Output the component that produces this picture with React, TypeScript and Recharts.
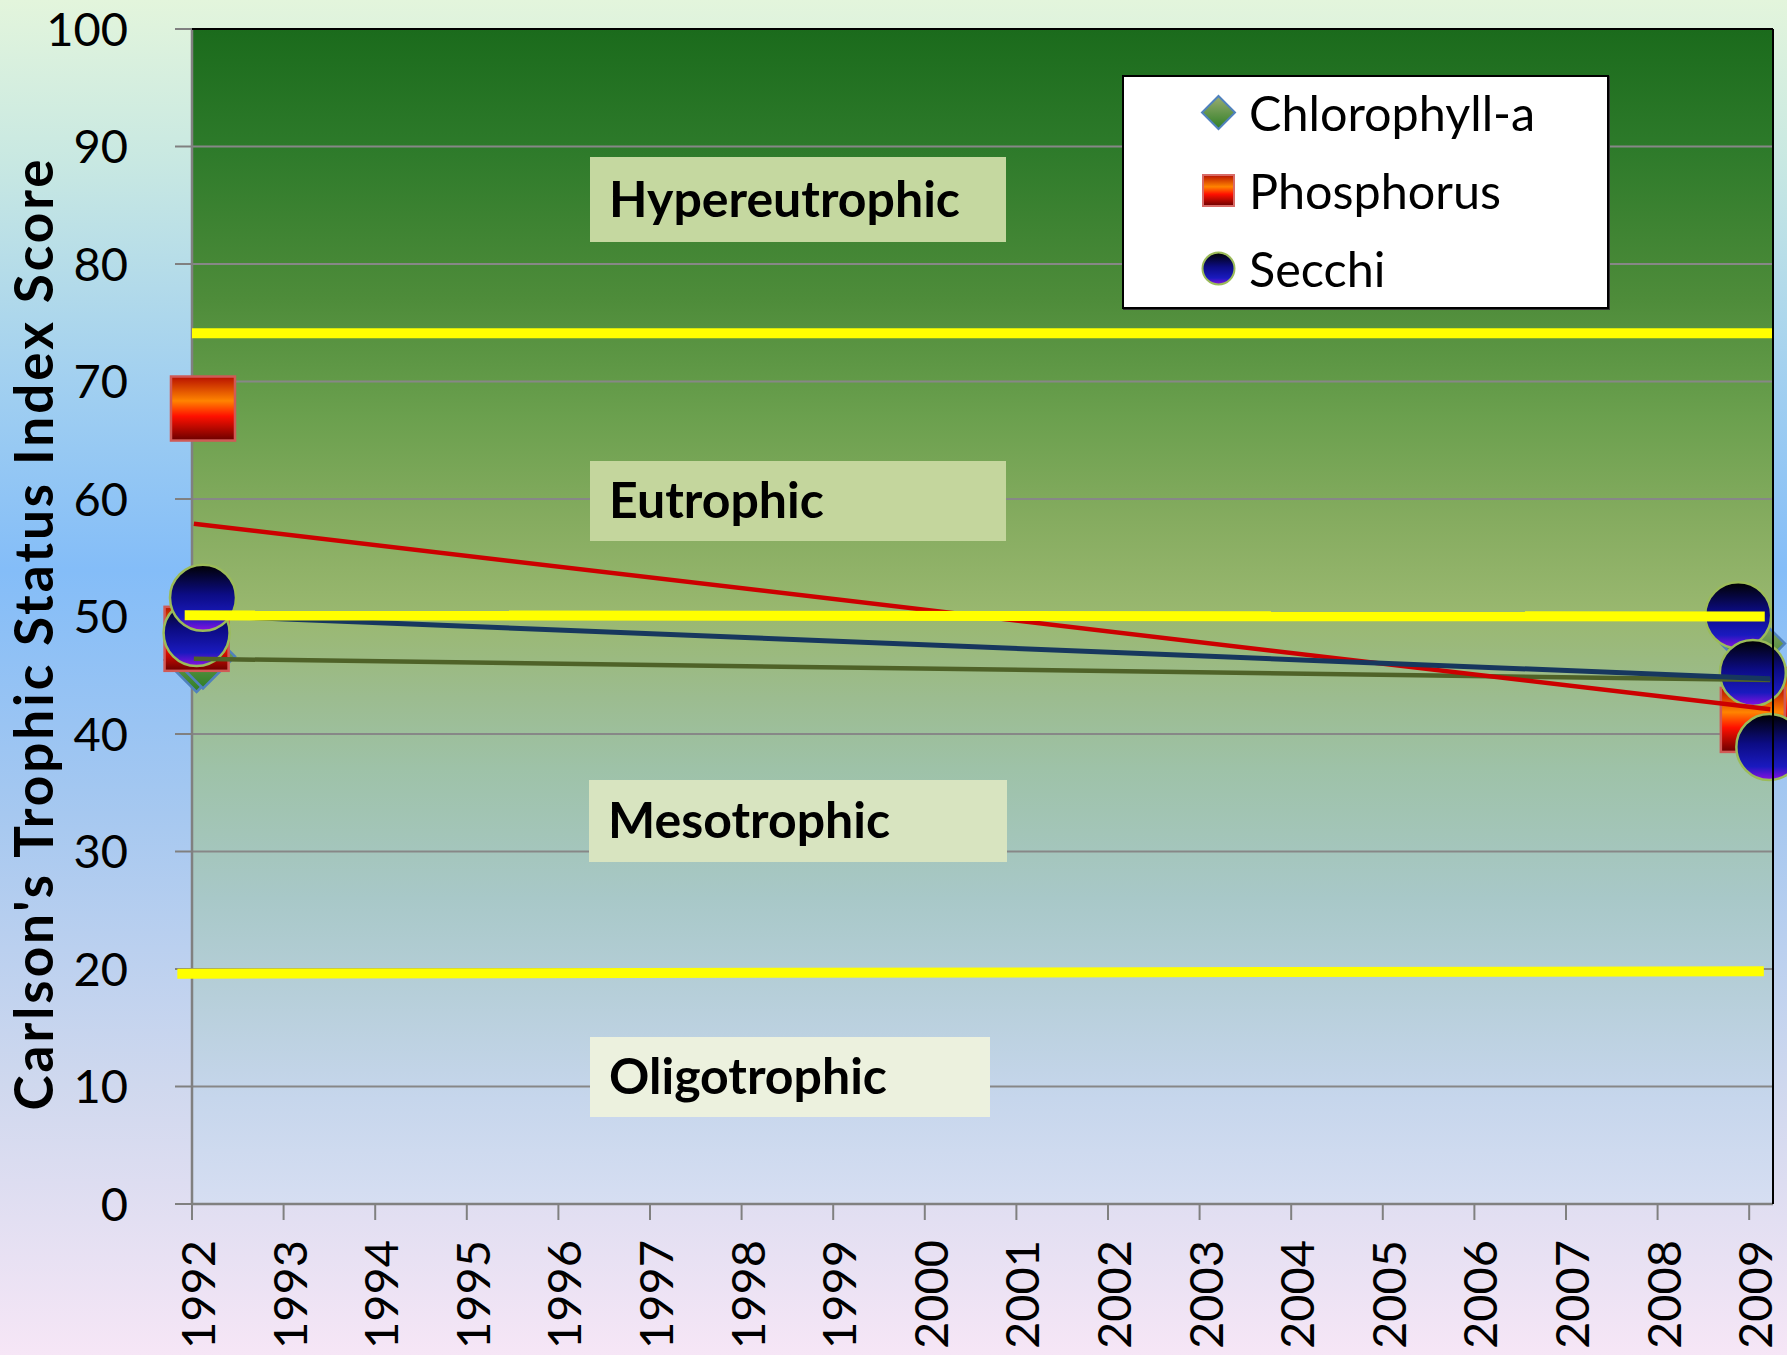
import React from 'react';
import {
  ComposedChart,
  Scatter,
  XAxis,
  YAxis,
  CartesianGrid,
  ReferenceLine,
  Legend,
} from 'recharts';

// ---------- data ----------
const xTicks = [1992, 1993, 1994, 1995, 1996, 1997, 1998, 1999, 2000, 2001, 2002, 2003, 2004, 2005, 2006, 2007, 2008, 2009];
const yTicks = [0, 10, 20, 30, 40, 50, 60, 70, 80, 90, 100];

const chlorophyll = [
  { x: 1992.05, y: 46.3 },
  { x: 1992.12, y: 46.6 },
  { x: 2009.04, y: 47.7 },
];
const phosphorus = [
  { x: 1992.12, y: 67.7 },
  { x: 1992.05, y: 48.1 },
  { x: 2009.22, y: 42.9 },
  { x: 2009.04, y: 41.2 },
];
const secchi = [
  { x: 1992.05, y: 48.6 },
  { x: 1992.12, y: 51.6 },
  { x: 2008.88, y: 50.1 },
  { x: 2009.04, y: 45.2 },
  { x: 2009.22, y: 38.9 },
];

const chlorophyllTrend = [
  { x: 1992.02, y: 46.4 },
  { x: 2009.23, y: 44.6 },
];
const phosphorusTrend = [
  { x: 1992.02, y: 57.9 },
  { x: 2009.23, y: 42.1 },
];
const secchiTrend = [
  { x: 1992.02, y: 50.1 },
  { x: 2009.23, y: 44.7 },
];

const thresholds = [
  { x1: 1992.0, y1: 74.1, x2: 2009.26, y2: 74.1 },
  { x1: 1991.92, y1: 50.1, x2: 2009.17, y2: 50.0 },
  { x1: 1991.84, y1: 19.6, x2: 2009.16, y2: 19.8 },
];

const zoneLabels = ['Hypereutrophic', 'Eutrophic', 'Mesotrophic', 'Oligotrophic'];
const seriesNames = ['Chlorophyll-a', 'Phosphorus', 'Secchi'];
const yTitle = "Carlson's Trophic Status Index Score";

// ---------- layout / style (not data) ----------
const zoneBoxLayout = [
  { left: 590, top: 157, width: 416, height: 85, bg: '#c5d8a0' },
  { left: 590, top: 461, width: 416, height: 80, bg: '#c4d69d' },
  { left: 589, top: 780, width: 418, height: 82, bg: '#d8e4c0' },
  { left: 590, top: 1037, width: 400, height: 80, bg: '#ecf1de' },
];

const FONT = 'Lato, "Open Sans", sans-serif';

const DiamondShape = (p: any) => {
  const { cx, cy } = p;
  const r = 32;
  return (
    <path
      d={`M${cx},${cy - r} L${cx + r},${cy} L${cx},${cy + r} L${cx - r},${cy} Z`}
      fill="url(#gDia)"
      stroke="#4f81bd"
      strokeWidth={2.5}
    />
  );
};
const SquareShape = (p: any) => {
  const { cx, cy } = p;
  const h = 32;
  return <rect x={cx - h} y={cy - h} width={2 * h} height={2 * h} fill="url(#gSq)" stroke="#d05a56" strokeWidth={2.5} />;
};
const CircleShape = (p: any) => {
  const { cx, cy } = p;
  return <circle cx={cx} cy={cy} r={33} fill="url(#gCir)" stroke="#9bbb59" strokeWidth={2.5} />;
};
const NoShape = () => <g />;

const legendMarker = (name: string) => {
  if (name === seriesNames[0])
    return <path d="M18.5,2 L35,18.5 L18.5,35 L2,18.5 Z" fill="url(#gDia)" stroke="#4f81bd" strokeWidth={2} />;
  if (name === seriesNames[1])
    return <rect x={3} y={3} width={31} height={31} fill="url(#gSq)" stroke="#d86a66" strokeWidth={2} />;
  return <circle cx={18.5} cy={18.5} r={16} fill="url(#gCir)" stroke="#9bbb59" strokeWidth={2} />;
};

const renderLegend = (props: any) => {
  const payload = (props.payload || []).filter((e: any) => e.type !== 'none');
  return (
    <div
      style={{
        width: 487,
        height: 234,
        boxSizing: 'border-box',
        border: '2px solid #000',
        background: '#fff',
        position: 'relative',
        fontFamily: FONT,
        boxShadow: '1px 1px 0 #333',
      }}
    >
      {payload.map((entry: any, i: number) => (
        <div
          key={entry.value}
          style={{ position: 'absolute', left: 0, top: 5 + 78 * i, height: 60, display: 'flex', alignItems: 'center' }}
        >
          <svg width={37} height={37} style={{ marginLeft: 76, display: 'block' }}>
            {legendMarker(entry.value)}
          </svg>
          <span style={{ marginLeft: 12, fontSize: 48.5, color: '#000', lineHeight: 1, whiteSpace: 'nowrap' }}>
            {entry.value}
          </span>
        </div>
      ))}
    </div>
  );
};

const XTick = (p: any) => {
  const { x, y, payload } = p;
  return (
    <text
      transform={`translate(${x + 23}, ${y}) rotate(-90)`}
      textAnchor="end"
      fontSize={47}
      fontFamily={FONT}
      fill="#000"
    >
      {payload.value}
    </text>
  );
};

const YTitle = (p: any) => {
  const vb = p.viewBox || { x: 0, y: 29, width: 192, height: 1175 };
  const cx = vb.x + 53;
  const cy = vb.y + vb.height / 2 + 17;
  return (
    <text
      x={cx}
      y={cy}
      transform={`rotate(-90, ${cx}, ${cy})`}
      textAnchor="middle"
      fontSize={53}
      fontWeight={700}
      letterSpacing={3}
      fontFamily={FONT}
      fill="#000"
    >
      {yTitle}
    </text>
  );
};

export default function App() {
  return (
    <div
      style={{
        position: 'absolute',
        left: 0,
        top: 0,
        width: 1787,
        height: 1355,
        overflow: 'hidden',
        fontFamily: FONT,
        background:
          'linear-gradient(to bottom, #e3f5dc 0%, #c8e8e2 12%, #a2d0f0 28%, #84bdf8 42%, #a6c8f0 60%, #cfd8ee 80%, #f6e6f6 100%)',
      }}
    >
      <ComposedChart width={1787} height={1355} margin={{ top: 29, right: 14, left: 0, bottom: 0 }}>
        <defs>
          <linearGradient id="plotBg" x1="0" y1="0" x2="0" y2="1">
            <stop offset="0" stopColor="#1b6b1c" />
            <stop offset="0.1" stopColor="#2d7a2a" />
            <stop offset="0.23" stopColor="#4e8c3a" />
            <stop offset="0.33" stopColor="#6ba04e" />
            <stop offset="0.42" stopColor="#86ac60" />
            <stop offset="0.5" stopColor="#9ab870" />
            <stop offset="0.57" stopColor="#9cbc90" />
            <stop offset="0.63" stopColor="#9ec2a8" />
            <stop offset="0.74" stopColor="#a8c8c8" />
            <stop offset="0.91" stopColor="#c6d6ec" />
            <stop offset="1" stopColor="#d6def2" />
          </linearGradient>
          <linearGradient id="gDia" x1="0" y1="0" x2="0" y2="1">
            <stop offset="0" stopColor="#9aac72" />
            <stop offset="1" stopColor="#2f7f25" />
          </linearGradient>
          <linearGradient id="gSq" x1="0" y1="0" x2="0" y2="1">
            <stop offset="0" stopColor="#b81000" />
            <stop offset="0.38" stopColor="#ff8400" />
            <stop offset="0.62" stopColor="#ff1000" />
            <stop offset="1" stopColor="#6a0000" />
          </linearGradient>
          <linearGradient id="gCir" x1="0" y1="0" x2="0" y2="1">
            <stop offset="0" stopColor="#000000" />
            <stop offset="0.45" stopColor="#0c0c84" />
            <stop offset="0.8" stopColor="#1a1abf" />
            <stop offset="1" stopColor="#8a10e0" />
          </linearGradient>
        </defs>
        <CartesianGrid
          vertical={false}
          stroke="#878787"
          strokeWidth={2}
          fill="url(#plotBg)"
          fillOpacity={1}
          horizontalValues={yTicks}
        />
        <XAxis
          type="number"
          dataKey="x"
          domain={[1992, 2009.26]}
          ticks={xTicks}
          interval={0}
          tick={<XTick />}
          tickSize={16}
          tickMargin={20}
          height={151}
          axisLine={{ stroke: '#808080', strokeWidth: 2.5 }}
          tickLine={{ stroke: '#808080', strokeWidth: 2 }}
        />
        <YAxis
          type="number"
          dataKey="y"
          domain={[0, 100]}
          ticks={yTicks}
          interval={0}
          width={192}
          tickSize={17}
          tickMargin={47}
          tick={{ fontSize: 47, fill: '#000', fontFamily: FONT }}
          axisLine={{ stroke: '#808080', strokeWidth: 2.5 }}
          tickLine={{ stroke: '#808080', strokeWidth: 2 }}
          label={<YTitle />}
        />
        <Scatter name={seriesNames[0]} data={chlorophyll} dataKey="y" shape={DiamondShape} fill="#7a9a50" isAnimationActive={false} />
        <Scatter name={seriesNames[1]} data={phosphorus} dataKey="y" shape={SquareShape} fill="#ff4000" isAnimationActive={false} />
        <Scatter name={seriesNames[2]} data={secchi} dataKey="y" shape={CircleShape} fill="#10109a" isAnimationActive={false} />
        <Scatter
          data={chlorophyllTrend}
          dataKey="y"
          line={{ stroke: '#4f6228', strokeWidth: 4.5 }}
          shape={NoShape}
          legendType="none"
          isAnimationActive={false}
        />
        <Scatter
          data={phosphorusTrend}
          dataKey="y"
          line={{ stroke: '#cc0000', strokeWidth: 4.5 }}
          shape={NoShape}
          legendType="none"
          isAnimationActive={false}
        />
        <Scatter
          data={secchiTrend}
          dataKey="y"
          line={{ stroke: '#17375e', strokeWidth: 5 }}
          shape={NoShape}
          legendType="none"
          isAnimationActive={false}
        />
        {thresholds.map((t, i) => (
          <ReferenceLine
            key={i}
            segment={[
              { x: t.x1, y: t.y1 },
              { x: t.x2, y: t.y2 },
            ]}
            stroke="#ffff00"
            strokeWidth={10}
            ifOverflow="visible"
            zIndex={1500}
          />
        ))}
        <ReferenceLine y={100} stroke="#000" strokeWidth={2} zIndex={1500} />
        <ReferenceLine x={2009.26} stroke="#000" strokeWidth={2} zIndex={1500} />
        <Legend
          layout="vertical"
          align="center"
          verticalAlign="middle"
          content={renderLegend}
          wrapperStyle={{ left: 1122, top: 75, width: 487, height: 234 }}
        />
      </ComposedChart>
      {zoneLabels.map((label, i) => {
        const b = zoneBoxLayout[i];
        return (
          <div
            key={label}
            style={{
              position: 'absolute',
              left: b.left,
              top: b.top,
              width: b.width,
              height: b.height,
              background: b.bg,
              display: 'flex',
              alignItems: 'center',
              boxSizing: 'border-box',
              paddingLeft: 19,
              paddingBottom: 4,
              fontSize: 50,
              fontWeight: 700,
              color: '#000',
              fontFamily: FONT,
            }}
          >
            {label}
          </div>
        );
      })}
    </div>
  );
}
